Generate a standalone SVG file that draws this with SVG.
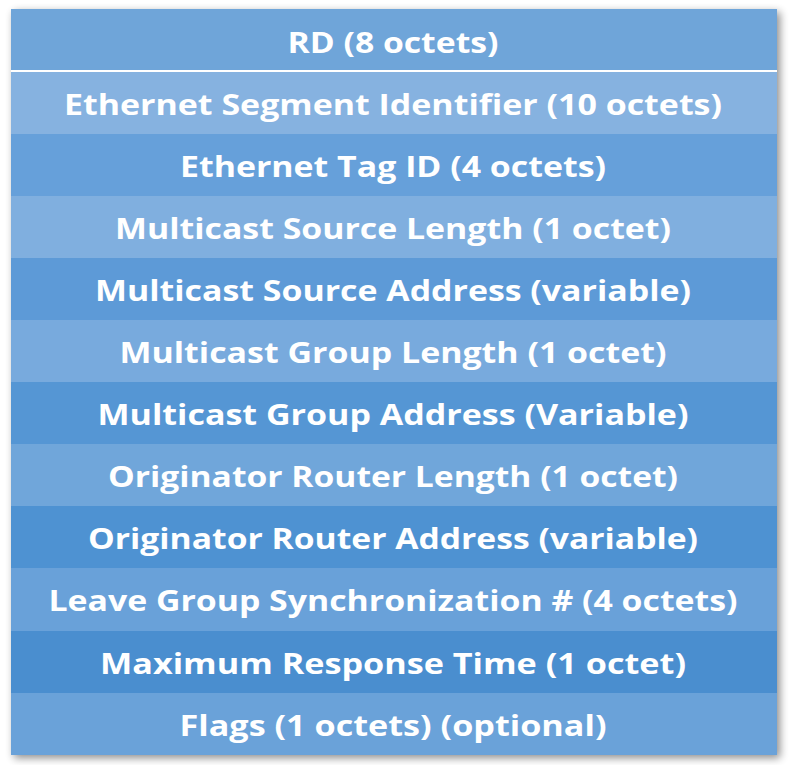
<svg xmlns="http://www.w3.org/2000/svg" width="790" height="765" viewBox="0 0 790 765">
<defs>
<filter id="sh" x="-5%" y="-5%" width="112%" height="112%"><feGaussianBlur in="SourceAlpha" stdDeviation="4"/><feOffset dx="3" dy="3"/><feComponentTransfer><feFuncA type="linear" slope="0.45"/></feComponentTransfer><feMerge><feMergeNode/><feMergeNode in="SourceGraphic"/></feMerge></filter>
<style>
text{font-family:"Open Sans","Noto Sans","Liberation Sans",sans-serif;font-weight:bold;font-size:29px;fill:#fff;text-anchor:middle;dominant-baseline:central}
</style>
</defs>
<rect width="790" height="765" fill="#fff"/>
<g filter="url(#sh)">
<rect x="11" y="9" width="766" height="746" fill="#6fa5d9"/>
</g>
<g id="r1"><rect x="11" y="9" width="766" height="62" fill="#6fa5d9"/><text x="393" y="41" textLength="211" lengthAdjust="spacingAndGlyphs">RD (8 octets)</text></g>
<g id="r2"><rect x="11" y="72" width="766" height="62" fill="#86b2e0"/><text x="393" y="103" textLength="658" lengthAdjust="spacingAndGlyphs">Ethernet Segment Identifier (10 octets)</text></g>
<g id="r3"><rect x="11" y="134" width="766" height="62" fill="#66a0da"/><text x="393" y="165" textLength="426" lengthAdjust="spacingAndGlyphs">Ethernet Tag ID (4 octets)</text></g>
<g id="r4"><rect x="11" y="196" width="766" height="62" fill="#80afdf"/><text x="393" y="227" textLength="556" lengthAdjust="spacingAndGlyphs">Multicast Source Length (1 octet)</text></g>
<g id="r5"><rect x="11" y="258" width="766" height="62" fill="#5d9ad7"/><text x="393" y="289" textLength="596" lengthAdjust="spacingAndGlyphs">Multicast Source Address (variable)</text></g>
<g id="r6"><rect x="11" y="320" width="766" height="62" fill="#78aadd"/><text x="393" y="351" textLength="547" lengthAdjust="spacingAndGlyphs">Multicast Group Length (1 octet)</text></g>
<g id="r7"><rect x="11" y="382" width="766" height="62" fill="#5596d4"/><text x="393" y="413" textLength="591" lengthAdjust="spacingAndGlyphs">Multicast Group Address (Variable)</text></g>
<g id="r8"><rect x="11" y="444" width="766" height="62" fill="#70a6da"/><text x="393" y="475" textLength="570" lengthAdjust="spacingAndGlyphs">Originator Router Length (1 octet)</text></g>
<g id="r9"><rect x="11" y="506" width="766" height="62" fill="#4e92d2"/><text x="393" y="537" textLength="610" lengthAdjust="spacingAndGlyphs">Originator Router Address (variable)</text></g>
<g id="r10"><rect x="11" y="568" width="766" height="63" fill="#69a1d9"/><text x="393" y="599" textLength="689" lengthAdjust="spacingAndGlyphs">Leave Group Synchronization # (4 octets)</text></g>
<g id="r11"><rect x="11" y="631" width="766" height="62" fill="#4a8ecf"/><text x="393" y="662" textLength="586" lengthAdjust="spacingAndGlyphs">Maximum Response Time (1 octet)</text></g>
<g id="r12"><rect x="11" y="693" width="766" height="62" fill="#6aa2d9"/><text x="393" y="724" textLength="427" lengthAdjust="spacingAndGlyphs">Flags (1 octets) (optional)</text></g>
<line x1="11" y1="71" x2="777" y2="71" stroke="#fff" stroke-width="2"/>
</svg>
